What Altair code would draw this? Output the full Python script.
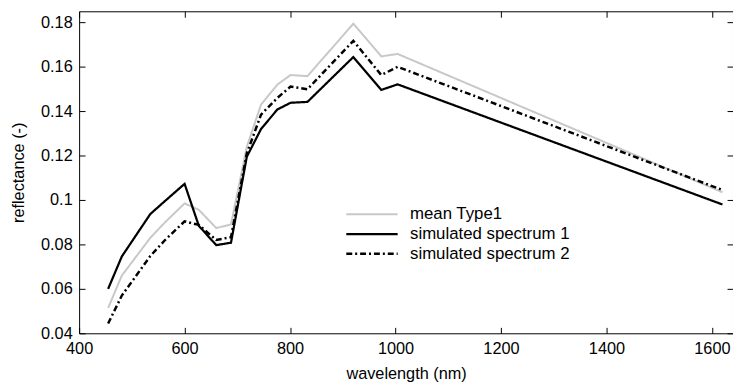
import altair as alt
import pandas as pd

wavelength = [455, 481, 535, 563, 600, 627, 660, 688, 718, 745, 776, 801, 833, 920, 973, 1004, 1620]
mean_type1 = [0.0514, 0.0660, 0.0830, 0.0900, 0.0985, 0.0956, 0.0874, 0.0890, 0.1240, 0.1430, 0.1520,
              0.1563, 0.1558, 0.1794, 0.1647, 0.1658, 0.1035]
sim1 = [0.0600, 0.0746, 0.0937, 0.0996, 0.1073, 0.0884, 0.0797, 0.0808, 0.1195, 0.1320, 0.1408,
        0.1438, 0.1442, 0.1644, 0.1496, 0.1521, 0.0980]
sim2 = [0.0444, 0.0570, 0.0748, 0.0820, 0.0904, 0.0888, 0.0820, 0.0833, 0.1210, 0.1385, 0.1460,
        0.1511, 0.1499, 0.1717, 0.1563, 0.1600, 0.1045]
series_names = ["mean Type1", "simulated spectrum 1", "simulated spectrum 2"]
x_ticks = [400, 600, 800, 1000, 1200, 1400, 1600]
y_ticks = [0.04, 0.06, 0.08, 0.10, 0.12, 0.14, 0.16, 0.18]

rows = []
for name, vals in zip(series_names, [mean_type1, sim1, sim2]):
    for w, v in zip(wavelength, vals):
        rows.append({"wl": w, "refl": v, "series": name})
df = pd.DataFrame(rows)

W, H = 662, 326
TICK = 6
FONT = "Liberation Sans"
xs = alt.Scale(domain=[400, 1640], nice=False, zero=False)
ys = alt.Scale(domain=[0.04, 0.185], nice=False, zero=False)

chart = alt.Chart(df).mark_line(strokeJoin="miter").encode(
    x=alt.X("wl:Q", scale=xs,
            axis=alt.Axis(orient="bottom", values=x_ticks, ticks=False, domain=False, format="d",
                          grid=True, gridColor="#000000", gridOpacity=1, gridWidth=1,
                          gridDash=[TICK, H - 2 * TICK, TICK, 0],
                          labelPadding=7, title="wavelength (nm)", titlePadding=9, labelFlush=False)),
    y=alt.Y("refl:Q", scale=ys,
            axis=alt.Axis(orient="left", values=y_ticks, ticks=False, domain=False, format=".2~f",
                          grid=True, gridColor="#000000", gridOpacity=1, gridWidth=1,
                          gridDash=[TICK, W - 2 * TICK, TICK, 0],
                          labelPadding=7, title="reflectance (-)", titlePadding=14, labelFlush=False)),
    color=alt.Color("series:N", scale=alt.Scale(domain=series_names, range=["#c8c8c8", "#000000", "#000000"]),
                    legend=alt.Legend(title=None, orient="none", legendX=288, legendY=197,
                                      symbolType="M-5.2,0H5.2", symbolSize=100, symbolStrokeWidth=2,
                                      labelOffset=30, rowPadding=2, padding=0, labelLimit=400)),
    strokeDash=alt.StrokeDash("series:N", scale=alt.Scale(domain=series_names,
                                                           range=[[1, 0], [1, 0], [6, 3, 2, 3]]),
                              legend=None),
    strokeWidth=alt.StrokeWidth("series:N", scale=alt.Scale(domain=series_names, range=[2, 2.5, 2]),
                                legend=None),
    order=alt.Order("wl:Q"),
).properties(
    width=W, height=H, padding={"left": 2, "top": 1, "right": 0, "bottom": 0}, background="white"
).configure_view(stroke="black", strokeWidth=1).configure_axis(
    labelFont=FONT, titleFont=FONT, labelFontSize=16.5, titleFontSize=16.5, labelColor="black",
    titleColor="black", titleFontWeight="normal"
).configure_legend(labelFont=FONT, labelFontSize=17, labelColor="black")

chart.save("out.html", embed_options={"renderer": "svg", "actions": False})
